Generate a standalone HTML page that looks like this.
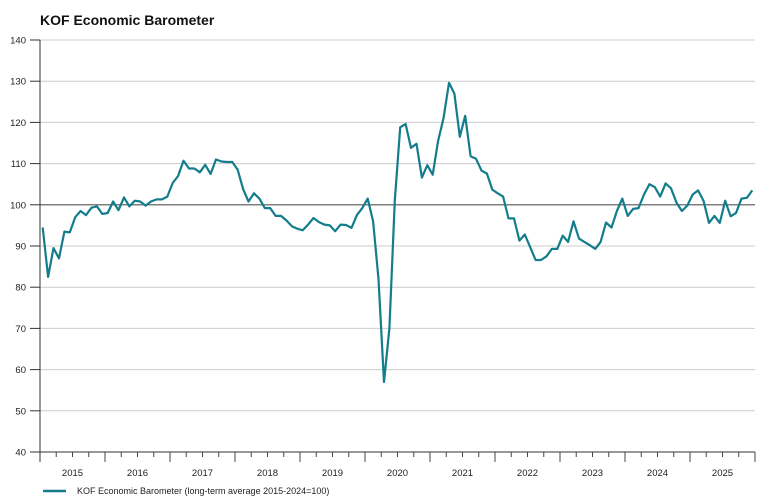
<!DOCTYPE html>
<html><head><meta charset="utf-8"><style>
body{margin:0;background:#fff;font-family:"Liberation Sans",sans-serif;}
</style></head><body>
<svg width="778" height="499" xmlns="http://www.w3.org/2000/svg">
<text x="40" y="25" font-size="14" font-weight="bold" fill="#111">KOF Economic Barometer</text>
<g id="grid"></g>
<g id="xaxis"></g>
<path id="line" fill="none" stroke="#137d8c" stroke-width="2.2" stroke-linejoin="round"/>
<g>
<line x1="43" y1="491" x2="66" y2="491" stroke="#137d8c" stroke-width="2.5"/>
<text x="77" y="494" font-size="9" fill="#222">KOF Economic Barometer (long-term average 2015-2024=100)</text>
</g>
</svg>
<script>
const years=[2015,2016,2017,2018,2019,2020,2021,2022,2023,2024,2025];
const yTicks=[40,50,60,70,80,90,100,110,120,130,140];
const values=[
94.5,82.5,89.5,87,93.5,93.3,97,98.5,97.5,99.3,99.6,97.8,
98,100.8,98.7,101.8,99.6,101,100.8,99.8,100.8,101.3,101.3,102,
105.3,107,110.7,108.8,108.8,107.9,109.7,107.5,111,110.5,110.4,110.4,
108.5,103.8,100.8,102.8,101.5,99.2,99.2,97.3,97.3,96.2,94.8,94.2,
93.8,95.2,96.8,95.8,95.2,95,93.6,95.2,95.1,94.4,97.5,99.2,
101.5,96,82,57,70,101,118.8,119.6,113.8,114.8,106.6,109.6,
107.3,115.5,121,129.6,127,116.5,121.6,111.8,111.2,108.3,107.6,103.7,
102.8,102,96.7,96.7,91.3,92.8,89.7,86.6,86.6,87.5,89.3,89.3,
92.5,91,96,91.8,91,90.2,89.3,91,95.7,94.5,98.5,101.5,
97.3,99,99.2,102.5,105,104.3,102,105.2,104,100.5,98.5,99.8,
102.5,103.5,101,95.6,97.3,95.6,101,97.2,98,101.5,101.7,103.5];
const NS="http://www.w3.org/2000/svg";
const x0=40,x1=755,yTop=40,yBot=452;
const mw=(x1-x0)/132;
const X=i=>x0+mw*(i+0.5);
const Y=v=>yBot-(v-40)/100*(yBot-yTop);
const grid=document.getElementById('grid');
yTicks.forEach(t=>{
 if(t!==40){
 const l=document.createElementNS(NS,'line');
 l.setAttribute('x1',x0);l.setAttribute('x2',x1);l.setAttribute('y1',Y(t));l.setAttribute('y2',Y(t));
 l.setAttribute('stroke',t===100?'#555':'#ccc');l.setAttribute('stroke-width',t===100?1.2:1);
 
 
 grid.appendChild(l);
 }
 const k=document.createElementNS(NS,'line');
 k.setAttribute('x1',x0-10);k.setAttribute('x2',x0);k.setAttribute('y1',Y(t));k.setAttribute('y2',Y(t));k.setAttribute('stroke','#333');
 
 
 grid.appendChild(k);
 const tx=document.createElementNS(NS,'text');
 tx.setAttribute('x',26);tx.setAttribute('y',Y(t)+3.5);tx.setAttribute('text-anchor','end');tx.setAttribute('font-size','9.5');tx.setAttribute('fill','#222');
 tx.textContent=t;
 
 
 grid.appendChild(tx);
});
const ax=document.createElementNS(NS,'line');
ax.setAttribute('x1',x0);ax.setAttribute('x2',x0);ax.setAttribute('y1',yTop);ax.setAttribute('y2',yBot+10);ax.setAttribute('stroke','#333');


grid.appendChild(ax);
const xa=document.getElementById('xaxis');
const xl=document.createElementNS(NS,'line');
xl.setAttribute('x1',x0-10);xl.setAttribute('x2',x1);xl.setAttribute('y1',yBot);xl.setAttribute('y2',yBot);xl.setAttribute('stroke','#333');


xa.appendChild(xl);
for(let q=1;q<=44;q++){
 const xs=x0+mw*3*q;
 const t=document.createElementNS(NS,'line');
 t.setAttribute('x1',xs);t.setAttribute('x2',xs);t.setAttribute('y1',yBot);t.setAttribute('y2',yBot+(q%4===0?10:5));t.setAttribute('stroke','#444');
 
 
 xa.appendChild(t);
}
years.forEach((yr,i)=>{
 const xs=x0+mw*12*i;
 const tx=document.createElementNS(NS,'text');
 tx.setAttribute('x',xs+mw*6);tx.setAttribute('y',476);tx.setAttribute('text-anchor','middle');tx.setAttribute('font-size','9.5');tx.setAttribute('fill','#222');
 tx.textContent=yr;
 
 
 xa.appendChild(tx);
});
document.getElementById('line').setAttribute('d',values.map((v,i)=>(i?'L':'M')+X(i).toFixed(1)+','+Y(v).toFixed(1)).join(''));
</script>
</body></html>
